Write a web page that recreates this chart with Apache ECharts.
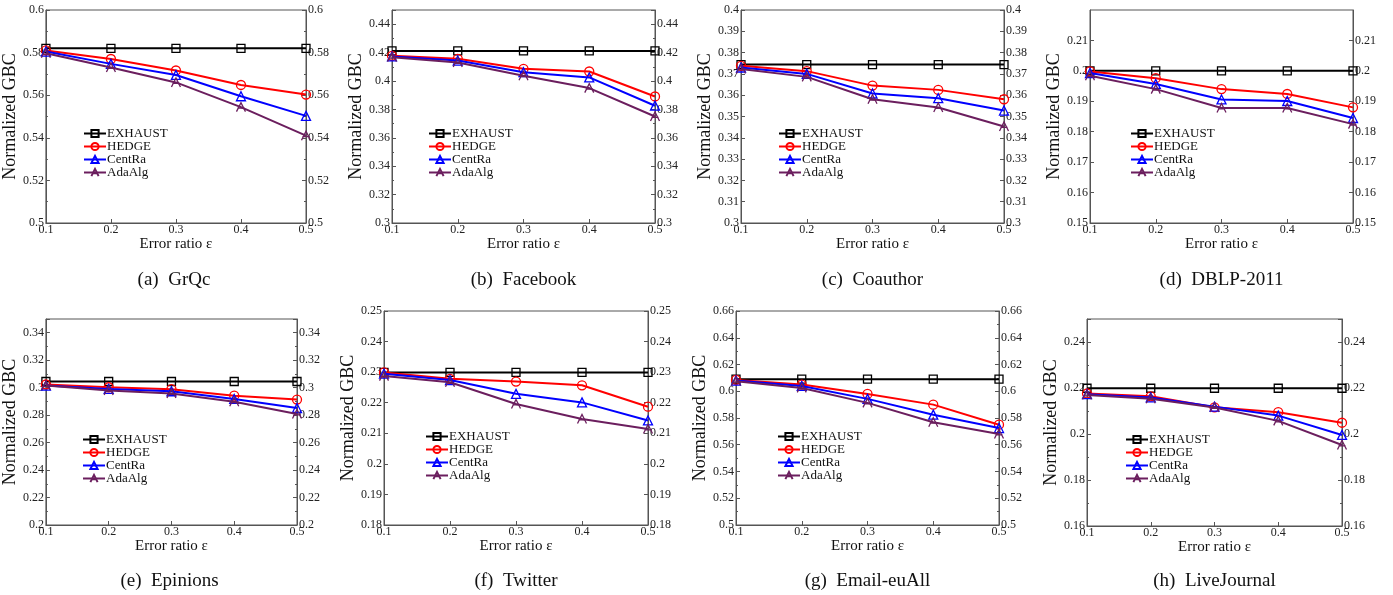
<!DOCTYPE html>
<html>
<head>
<meta charset="utf-8">
<script src="https://cdn.jsdelivr.net/npm/echarts@6/dist/echarts.min.js"></script>
<style>html,body{margin:0;padding:0;background:#fff}#c{width:1393px;height:595px}</style>
</head>
<body>
<div id="c"></div>
<script>
// ---- data ----
const xValues = [0.1, 0.2, 0.3, 0.4, 0.5];
const methods = ['EXHAUST', 'HEDGE', 'CentRa', 'AdaAlg'];
const captions = ['(a)  GrQc', '(b)  Facebook', '(c)  Coauthor', '(d)  DBLP-2011',
                  '(e)  Epinions', '(f)  Twitter', '(g)  Email-euAll', '(h)  LiveJournal'];
// rows: EXHAUST, HEDGE, CentRa, AdaAlg
const grqc = [
  [0.582, 0.582, 0.582, 0.582, 0.582],
  [0.581, 0.577, 0.5716, 0.5648, 0.5603],
  [0.5805, 0.5747, 0.5695, 0.5595, 0.5503],
  [0.5797, 0.573, 0.566, 0.5544, 0.541]
];
const facebook = [
  [0.4212, 0.4212, 0.4212, 0.4212, 0.4212],
  [0.4177, 0.4156, 0.4086, 0.4067, 0.3891],
  [0.4173, 0.4144, 0.4062, 0.4025, 0.3826],
  [0.4168, 0.413, 0.4037, 0.395, 0.375]
];
const coauthor = [
  [0.3744, 0.3744, 0.3744, 0.3744, 0.3744],
  [0.3738, 0.3713, 0.3645, 0.3625, 0.3581],
  [0.373, 0.37, 0.3608, 0.3586, 0.3528],
  [0.3723, 0.3686, 0.3581, 0.3542, 0.3453]
];
const dblp = [
  [0.2, 0.2, 0.2, 0.2, 0.2],
  [0.1998, 0.1976, 0.194, 0.1924, 0.188],
  [0.1993, 0.1957, 0.1906, 0.1901, 0.1845],
  [0.1984, 0.194, 0.1878, 0.1878, 0.1825]
];
const epinions = [
  [0.3045, 0.3045, 0.3045, 0.3045, 0.3045],
  [0.3023, 0.3003, 0.2989, 0.2942, 0.2913],
  [0.3015, 0.2991, 0.2974, 0.2918, 0.2852],
  [0.3015, 0.2979, 0.2957, 0.2898, 0.2808]
];
const twitter = [
  [0.2299, 0.2299, 0.2299, 0.2299, 0.2299],
  [0.2299, 0.2278, 0.2269, 0.2257, 0.2187],
  [0.2295, 0.2274, 0.2229, 0.2201, 0.2142],
  [0.2287, 0.2267, 0.2196, 0.2147, 0.2114]
];
const emailEuAll = [
  [0.609, 0.609, 0.609, 0.609, 0.609],
  [0.6085, 0.605, 0.598, 0.59, 0.575],
  [0.608, 0.604, 0.5943, 0.5825, 0.5725],
  [0.6075, 0.6025, 0.5913, 0.5768, 0.568]
];
const liveJournal = [
  [0.2199, 0.2199, 0.2199, 0.2199, 0.2199],
  [0.2176, 0.2164, 0.2116, 0.2095, 0.2049],
  [0.2173, 0.2159, 0.2119, 0.208, 0.1996],
  [0.217, 0.2153, 0.2115, 0.2057, 0.1952]
];
const yMins = [0.5, 0.3, 0.3, 0.15, 0.2, 0.18, 0.5, 0.16];
const yMaxs = [0.6, 0.45, 0.4, 0.22, 0.35, 0.25, 0.66, 0.25];
const yIntervals = [0.02, 0.02, 0.01, 0.01, 0.02, 0.01, 0.02, 0.02];
const xAxisTitle = 'Error ratio ε';
const yAxisTitle = 'Normalized GBC';

// ---- layout / style ----
const datasets = [grqc, facebook, coauthor, dblp, epinions, twitter, emailEuAll, liveJournal];
const rects = [[42,10,264,213],[392,10,263,213],[741,10,263,213],[1090,10,263,213],
               [42,319,255,206],[384,311,264,214],[736,311,263,214],[1087,319,255,207]];
const legendPos = [[83,127],[428,127],[778,127],[1130,127],[82,433],[425,430],[777,430],[1125,433]];
const captionY = [280, 280, 280, 280, 581, 581, 581, 581];
const colors = ['#000000', '#ff0000', '#0000ff', '#6b1e5e'];
const adaPath = 'path://M0,10 L5,0 L10,10 M1,6 L9,6';
const symbols = ['rect', 'circle', 'triangle', adaPath];
const symSizes = [8, 9, 9, 9];
const serif = 'Liberation Serif';
const axisColor = '#555';

const grid = [], xAxis = [], yAxis = [], series = [], legend = [], graphic = [];
rects.forEach((r, p) => {
  grid.push({left: r[0], top: r[1], width: r[2], height: r[3], show: true,
             borderColor: axisColor, borderWidth: 1, containLabel: false});
  xAxis.push({type: 'value', gridIndex: p, min: 0.1, max: 0.5, interval: 0.1,
    name: xAxisTitle, nameLocation: 'middle', nameGap: 11,
    nameTextStyle: {fontFamily: serif, fontSize: 15, color: '#111'},
    axisLine: {lineStyle: {color: axisColor}},
    axisTick: {inside: true, length: 4, lineStyle: {color: axisColor}},
    axisLabel: {fontFamily: serif, fontSize: 12, color: '#222', margin: 1},
    splitLine: {show: false}});
  const showMax = [0,2,5,6].includes(p);
  const hasMinor = yIntervals[p] === 0.02;
  const yCommon = {type: 'value', gridIndex: p, min: yMins[p], max: yMaxs[p], interval: yIntervals[p],
    axisLine: {show: true, lineStyle: {color: axisColor}},
    axisTick: {inside: true, length: 4, lineStyle: {color: axisColor}},
    minorTick: {show: hasMinor, splitNumber: 2, length: 2, lineStyle: {color: axisColor}},
    axisLabel: {fontFamily: serif, fontSize: 12, color: '#222', margin: 2, showMaxLabel: showMax},
    splitLine: {show: false}, minorSplitLine: {show: false}};
  yAxis.push(Object.assign({}, yCommon, {position: 'left', name: yAxisTitle, nameLocation: 'middle',
    nameGap: 22, nameTextStyle: {fontFamily: serif, fontSize: 18, color: '#111'}}));
  yAxis.push(Object.assign({}, yCommon, {position: 'right'}));
  const data = datasets[p];
  methods.forEach((m, k) => {
    series.push({type: 'line', name: m, xAxisIndex: p, yAxisIndex: 2 * p,
      data: xValues.map((x, i) => [x, data[k][i]]),
      symbol: symbols[k], symbolSize: symSizes[k], showAllSymbol: true,
      lineStyle: {color: colors[k], width: 2},
      itemStyle: {color: 'rgba(255,255,255,0)', borderColor: colors[k], borderWidth: 1.3},
      emphasis: {disabled: true}, animation: false, z: 2 + k});
  });
  legend.push({data: methods, orient: 'vertical', left: legendPos[p][0], top: legendPos[p][1],
    itemGap: 0, itemWidth: 22, itemHeight: 9, padding: 0,
    textStyle: {fontFamily: serif, fontSize: 13, color: '#111', lineHeight: 12, padding: [0,0,0,-4]}});
  graphic.push({type: 'text', x: r[0] + r[2] / 2, y: captionY[p],
    style: {text: captions[p], textAlign: 'center', textVerticalAlign: 'middle',
            font: '19px "Liberation Serif"', fill: '#111'}});
});

const chart = echarts.init(document.getElementById('c'), null, {renderer: 'canvas'});
chart.setOption({animation: false, grid, xAxis, yAxis, series, legend, graphic});
</script>
</body>
</html>
